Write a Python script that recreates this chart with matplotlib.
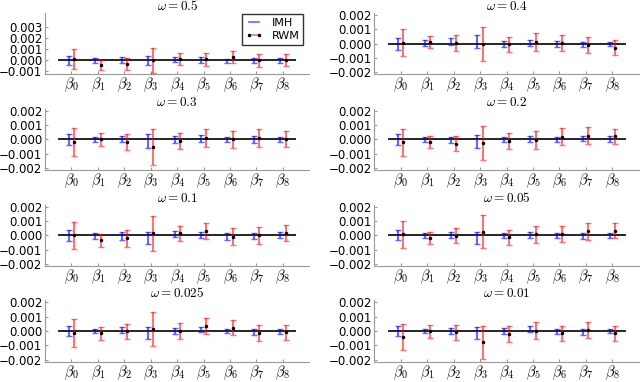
import numpy as np
import matplotlib.pyplot as plt
from matplotlib.lines import Line2D

plt.rcParams['mathtext.fontset'] = 'cm'
plt.rcParams['font.family'] = 'DejaVu Sans'

omegas = ['0.5', '0.4', '0.3', '0.2', '0.1', '0.05', '0.025', '0.01']
params = [r'$\beta_0$', r'$\beta_1$', r'$\beta_2$', r'$\beta_3$', r'$\beta_4$',
          r'$\beta_5$', r'$\beta_6$', r'$\beta_7$', r'$\beta_8$']

# IMH: centre and half-width of the blue bars, one row per omega
imh_mean = [
    [0.0, 0.0, 0.00006, 0.0, 0.00006, 0.00003, -0.00006, 0.0, 0.0],
    [-0.00002, 0.00006, 0.00014, 0.00015, 0.0, 0.00003, 0.0, -0.00005, -0.00003],
    [0.0, 0.0, 0.0, -0.0001, 0.0, 0.00005, 0.0, 0.0, 0.0],
    [0.0, -0.00002, -0.00002, -0.00013, 0.0, 0.0, -0.00002, 0.00007, 0.00002],
    [-0.00002, -0.00005, -0.00005, -0.0002, 0.0001, 0.00004, -0.0001, -0.00003, 0.00002],
    [0.0, 0.0, 0.0, -0.0002, 0.0, 0.00002, 0.0, -0.00008, 0.0],
    [0.0, 0.0, 0.00006, -0.00015, 0.0, 0.0001, 0.0, -0.00009, -0.00005],
    [0.00002, 0.0, 0.0, -0.00012, 0.0, 0.00012, -0.00002, -0.00007, 0.0],
]
imh_err = [
    [0.0004, 0.00021, 0.00026, 0.00042, 0.00025, 0.00028, 0.00022, 0.0002, 0.0002],
    [0.00039, 0.00019, 0.00025, 0.00044, 0.00021, 0.00021, 0.0002, 0.00018, 0.00015],
    [0.00036, 0.00018, 0.00021, 0.00049, 0.00022, 0.00024, 0.0002, 0.00022, 0.00018],
    [0.00036, 0.00018, 0.00021, 0.00046, 0.0002, 0.00021, 0.00018, 0.00019, 0.00019],
    [0.00039, 0.00018, 0.00025, 0.00044, 0.0002, 0.00021, 0.00023, 0.00021, 0.0002],
    [0.00035, 0.00019, 0.0002, 0.00044, 0.00019, 0.00022, 0.00019, 0.00021, 0.00018],
    [0.00032, 0.00017, 0.00021, 0.00042, 0.00021, 0.00019, 0.00016, 0.00022, 0.00017],
    [0.00034, 0.00016, 0.00018, 0.00043, 0.00018, 0.0002, 0.00017, 0.0002, 0.00016],
]

# RWM: posterior mean (black dot) and half-width of the red bars
rwm_mean = [
    [0.00009, -0.0004, -0.0003, 0.0, 0.00012, 0.00009, 0.00027, 0.0, 0.00006],
    [0.00007, 0.0001, 0.00006, -0.00004, -0.00005, 0.00012, 0.00006, -0.00007, -0.00028],
    [-0.0002, 0.00002, -0.00018, -0.0005, -0.0001, 0.0001, 0.0, 0.0001, 0.00004],
    [-0.00021, -0.0002, -0.0003, -0.00026, -0.00012, -0.00005, 0.00019, 0.00025, 0.00022],
    [0.0, -0.00034, -0.00022, 0.00013, 0.00013, 0.0003, -0.0001, -0.00001, 0.00015],
    [0.00006, -0.00018, -0.00004, 0.00025, -0.00015, 0.00006, 0.0001, 0.00027, 0.00032],
    [-0.00013, -0.00017, -0.00003, 0.00015, 0.0, 0.00034, 0.00024, -0.00013, -0.00008],
    [-0.0004, -0.00003, -0.00008, -0.0008, -0.00022, 0.00003, -0.00017, 0.00008, -0.00017],
]
rwm_err = [
    [0.0009, 0.00045, 0.00053, 0.00114, 0.00053, 0.00056, 0.00053, 0.00059, 0.00053],
    [0.00095, 0.00043, 0.00058, 0.0012, 0.00055, 0.0006, 0.00058, 0.00057, 0.00053],
    [0.00098, 0.00045, 0.00053, 0.00126, 0.00056, 0.00061, 0.0006, 0.0006, 0.00055],
    [0.00096, 0.00042, 0.00053, 0.0012, 0.00054, 0.00061, 0.00059, 0.0006, 0.00053],
    [0.00095, 0.00045, 0.00057, 0.00123, 0.00055, 0.00058, 0.00058, 0.00057, 0.00055],
    [0.00096, 0.00044, 0.00053, 0.00117, 0.00053, 0.00061, 0.00055, 0.00057, 0.00053],
    [0.00096, 0.00044, 0.00051, 0.00117, 0.00054, 0.00055, 0.00055, 0.00055, 0.00052],
    [0.00092, 0.00045, 0.00052, 0.00113, 0.00054, 0.00058, 0.00054, 0.00058, 0.00053],
]

blue = (0.0, 0.0, 1.0, 0.6)
red = (1.0, 0.0, 0.0, 0.55)

fig = plt.figure(figsize=(6.4, 3.82), dpi=100)
axes = fig.subplots(4, 2)
fig.subplots_adjust(left=0.0703, right=0.998, bottom=0.053, top=0.966,
                    wspace=0.246, hspace=0.56)

x = np.arange(len(params))
for k, ax in enumerate(axes.flat):
    ax.hlines(0, -0.5, 8.5, color='k', lw=1.2, zorder=1)
    ax.errorbar(x - 0.1, imh_mean[k], yerr=imh_err[k], fmt='none',
                ecolor=blue, elinewidth=1.5, capsize=2, capthick=1, zorder=2)
    ax.errorbar(x + 0.1, rwm_mean[k], yerr=rwm_err[k], fmt='.', color='k',
                ms=3, ecolor=red, elinewidth=1.5, capsize=2, capthick=1, zorder=3)
    ax.set_xlim(-1, 9)
    if k == 0:
        ax.set_ylim(-0.00127, 0.00427)
        ax.set_yticks([-0.001, 0.0, 0.001, 0.002, 0.003])
    else:
        ax.set_ylim(-0.00215, 0.00215)
        ax.set_yticks([-0.002, -0.001, 0.0, 0.001, 0.002])
    ax.set_xticks(x)
    ax.set_xticklabels(params, fontsize=10.5)
    ax.set_title(r'$\omega=%s$' % omegas[k], fontsize=9.5, pad=1)
    for s in ['top', 'right']:
        ax.spines[s].set_visible(False)
    for s in ['left', 'bottom']:
        ax.spines[s].set_color('#999999')
    ax.tick_params(axis='y', labelsize=8.5, length=2, direction='in',
                   color='#999999', pad=2)
    ax.tick_params(axis='x', length=2, direction='in', color='#999999', pad=1)

handles = [Line2D([], [], color=blue, lw=1.2),
           Line2D([], [], color=red, lw=1.2, marker='.', ms=3, mfc='k', mec='k')]
axes[0, 0].legend(handles, ['IMH', 'RWM'], loc='upper right', numpoints=2,
                  bbox_to_anchor=(0.977, 0.985), borderaxespad=0, fontsize=8,
                  fancybox=False, edgecolor='#333333', framealpha=1,
                  labelspacing=0.3, borderpad=0.35, handlelength=1.5)

fig.savefig('out.png', dpi=100)
